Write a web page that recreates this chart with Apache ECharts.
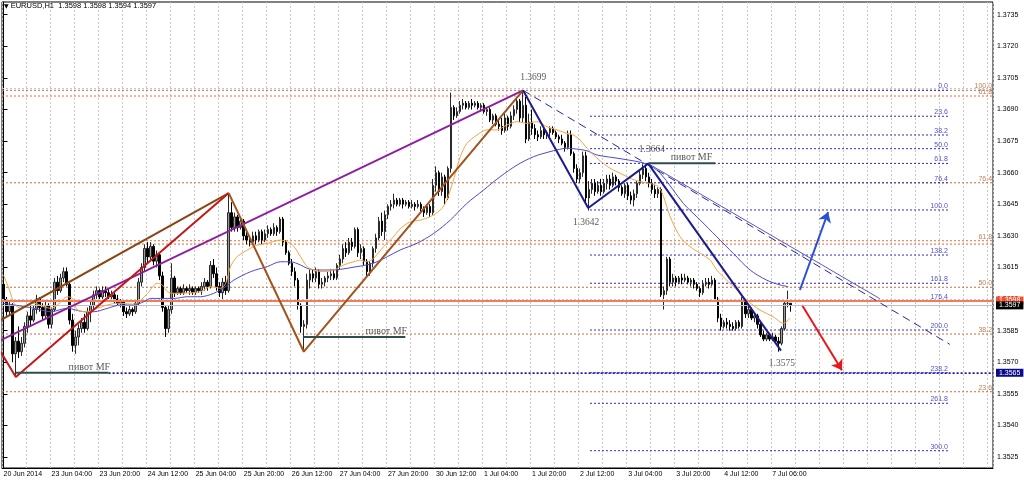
<!DOCTYPE html>
<html><head><meta charset="utf-8">
<script src="https://cdn.jsdelivr.net/npm/echarts@6/dist/echarts.min.js"></script>
<style>html,body{margin:0;padding:0;background:#fff}#c{width:1024px;height:482px}</style>
</head><body><div id="c"></div>
<script>
// ---------- DATA (prices in pips above 1.3500) ----------
const BASE = 1.35, PIP = 0.0001;
const titleText = 'EURUSD,H1  1.3598 1.3598 1.3594 1.3597';
const dateLabels = ['20 Jun 2014','23 Jun 04:00','23 Jun 20:00','24 Jun 12:00','25 Jun 04:00','25 Jun 20:00','26 Jun 12:00','27 Jun 04:00','27 Jun 20:00','30 Jun 12:00','1 Jul 04:00','1 Jul 20:00','2 Jul 12:00','3 Jul 04:00','3 Jul 20:00','4 Jul 12:00','7 Jul 06:00'];
const BARS_PER_LABEL = 16;
const priceTicks = [1.3525,1.3540,1.3555,1.3570,1.3585,1.3600,1.3615,1.3630,1.3645,1.3660,1.3675,1.3690,1.3705,1.3720,1.3735];
// hourly candles [open, high, low, close]
const candles = [
[107,110,97,99],[99,101,92,94],[94,99,92,97],[97,98,70,74],[74,82,64,80],[80,87,72,75],[75,82,73,79],[79,89,77,87],[87,94,84,92],[92,97,87,90],
[90,97,89,95],[95,102,93,100],[100,101,94,96],[96,98,90,92],[92,99,91,97],[97,98,86,88],[88,96,86,95],[95,110,94,108],[108,111,102,104],[104,112,103,110],
[110,115,108,113],[113,115,106,107],[107,108,88,90],[90,93,75,78],[78,85,74,82],[82,88,78,86],[86,91,84,89],[89,93,84,86],[86,96,85,94],[94,99,89,97],
[97,104,95,102],[102,106,100,104],[104,105,100,101],[101,106,100,104],[104,106,101,103],[103,105,100,101],[101,104,99,102],[102,103,98,100],[100,102,97,98],[98,100,96,99],
[99,100,92,94],[94,96,91,93],[93,97,92,95],[95,96,92,94],[94,99,93,98],[98,110,97,108],[108,117,106,115],[115,126,113,124],[124,127,117,120],[120,127,118,125],
[125,126,116,118],[118,123,115,121],[121,122,109,111],[111,113,94,96],[96,97,82,86],[86,97,84,95],[95,117,93,110],[110,111,101,103],[103,106,102,105],[105,106,102,103],
[103,107,102,105],[105,106,103,104],[104,107,102,105],[105,106,102,103],[103,106,102,105],[105,106,103,104],[104,108,102,106],[106,110,104,108],[108,109,104,106],[106,118,105,116],
[116,119,110,112],[112,115,104,106],[106,108,101,103],[103,110,100,108],[108,111,102,104],[104,150,103,141],[141,146,132,134],[134,141,132,139],[139,140,132,134],[134,139,133,137],
[137,138,128,130],[130,133,126,128],[128,130,125,127],[127,132,126,130],[130,132,126,128],[128,133,127,132],[132,133,126,128],[128,133,127,131],[131,135,129,133],[133,134,130,131],
[131,136,130,134],[134,135,130,132],[132,139,131,138],[138,139,125,127],[127,128,121,122],[122,123,116,117],[117,119,111,113],[113,115,106,109],[109,110,95,97],[97,98,84,87],
[87,90,76,88],[88,112,86,109],[109,114,105,112],[112,114,108,110],[110,115,108,113],[113,114,105,107],[107,110,105,108],[108,111,106,110],[110,113,108,111],[111,114,109,112],
[112,114,109,110],[110,117,109,116],[116,121,114,119],[119,126,117,124],[124,127,120,122],[122,129,121,127],[127,129,123,125],[125,134,124,133],[133,134,120,122],[122,126,119,124],
[124,125,116,118],[118,119,111,113],[113,118,111,117],[117,125,115,124],[124,131,122,129],[129,139,128,137],[137,141,130,132],[132,142,128,140],[140,145,138,144],[144,147,142,145],
[145,150,143,147],[147,148,144,145],[145,148,144,147],[147,148,143,145],[145,147,144,146],[146,147,143,144],[144,147,143,145],[145,146,142,144],[144,147,143,145],[145,146,141,143],
[143,144,139,141],[141,145,140,144],[144,145,139,141],[141,157,140,154],[154,163,151,160],[160,161,149,151],[151,160,149,158],[158,159,145,148],[148,163,147,162],[162,198,160,191],
[191,192,185,187],[187,191,186,189],[189,194,188,192],[192,195,190,193],[193,194,190,191],[191,194,190,193],[193,195,190,192],[192,194,191,193],[193,194,190,191],[191,193,189,192],
[192,193,188,189],[189,191,187,190],[190,191,184,185],[185,188,183,187],[187,188,182,183],[183,185,180,182],[182,186,178,180],[180,188,179,186],[186,187,180,182],[182,189,181,187],
[187,192,185,190],[190,196,188,194],[194,195,184,186],[186,199,184,192],[192,196,174,176],[176,188,175,184],[184,190,178,181],[181,183,176,178],[178,180,175,177],[177,182,176,180],
[180,181,176,178],[178,180,176,179],[179,182,177,181],[181,182,178,179],[179,180,176,177],[177,178,174,176],[176,178,173,174],[174,175,170,172],[172,180,171,178],[178,180,168,169],
[169,170,160,162],[162,164,155,157],[157,162,155,160],[160,170,158,168],[168,170,146,148],[148,156,142,152],[152,157,150,155],[155,157,149,151],[151,156,150,154],[154,157,149,151],
[151,157,150,155],[155,159,152,157],[157,159,152,154],[154,160,153,158],[158,159,154,156],[156,157,151,153],[153,154,149,150],[150,155,148,154],[154,155,147,149],[149,151,145,147],
[147,152,144,150],[150,156,148,155],[155,161,154,159],[159,164,157,162],[162,164,156,158],[158,160,153,155],[155,157,150,152],[152,154,148,150],[150,153,148,152],[152,153,101,102],
[102,106,95,104],[104,120,102,119],[119,120,106,108],[108,112,106,110],[110,111,106,108],[108,111,107,110],[110,112,107,109],[109,112,108,110],[110,111,107,108],[108,110,106,109],
[109,110,105,107],[107,108,104,105],[105,106,101,103],[103,109,102,107],[107,110,106,108],[108,110,105,107],[107,111,106,109],[109,110,99,100],[100,101,89,91],[91,93,85,87],
[87,90,86,89],[89,91,86,88],[88,90,85,87],[87,89,85,86],[86,90,85,89],[89,90,86,87],[87,101,86,99],[99,100,91,93],[93,97,91,95],[95,96,90,91],
[91,93,89,92],[92,93,86,88],[88,89,82,83],[83,85,80,81],[81,84,80,83],[83,84,80,81],[81,84,80,82],[82,83,79,80],[80,82,75,79],[79,87,78,86],
[86,99,85,98],[98,104,96,98],[98,98,94,97]
];
// moving averages: [bar index, pips]
const maFast = [[0,111.4],[2,104.3],[3.5,98],[5.8,95.6],[8,97.2],[10.2,98],[13.5,96.4],[15.7,95.6],[18,97.2],[21.3,101.1],[23,100.3],[24.6,94.8],[28,94],[31.3,95.6],[34.6,97.2],[38,98],[43.5,97.6],[45.7,99.5],[48,102.7],[51.2,107.5],[52.9,106.7],[54.6,103.5],[56.8,102.7],[65.6,103.5],[69,105.9],[72.3,105.1],[74,107.5],[75.6,115.4],[77.8,120.1],[81.2,123.3],[84.5,125.6],[87.8,126.4],[92.2,128],[94.5,127.2],[96.7,124.9],[98.9,120.1],[101.1,115.4],[103.3,113.8],[106.7,113],[110,113.8],[113.3,116.2],[116.6,117.7],[118.8,118.5],[121,117.7],[123.2,119.3],[126.6,124.9],[129.9,129.6],[132.2,133.5],[135.5,136.7],[138.8,137.5],[142.1,139.1],[145.5,142.3],[147.1,145.4],[148.8,151.8],[150.5,159.7],[152.1,167.6],[154.3,173.9],[157.7,177.9],[161,180.3],[164.3,180.3],[167.6,182.6],[171,184.2],[174.3,183.4],[177.6,184.2],[181,181.8],[184.3,180.3],[187.6,178.7],[189.8,177.9],[192,175.5],[194.3,171.6],[196.5,168.4],[198.7,165.6],[202,162.1],[205.4,159.7],[208.7,157.3],[212,155.7],[215.3,154.9],[218.1,153.3],[219.8,148.6],[222,139.1],[225.3,129.6],[228.6,124.9],[232,121.7],[235.3,118.5],[237.5,113.8],[240.8,109],[244.2,104.3],[247.5,99.5],[251.9,94.8],[256.3,91.6],[259.7,88.5],[261.3,90],[262,91]];
const maSlow = [[0,98],[3.5,97.2],[10.2,95.6],[15.7,94],[21.3,95.6],[26.8,94],[30.2,94],[34.6,95.6],[39,97.2],[43.5,97.2],[46.8,98.8],[49,100.3],[52.3,100.3],[56.8,100.3],[61.2,101.1],[65.6,101.1],[70,102.7],[74,105.9],[76.7,109],[82.3,113],[87.8,115.4],[92.2,117.7],[95.5,117.7],[98.9,116.2],[101.1,114.6],[104.4,113.8],[110,113.8],[114.4,114.6],[117.7,115.4],[121,116.2],[124.4,117.7],[127.8,120.1],[132.1,123.3],[137.7,126.5],[143.3,131.2],[148.8,137.5],[154.3,145.4],[159.9,151.8],[165.4,158.1],[171,163.6],[176.5,167.6],[182,170],[184.3,170.8],[187.6,171.6],[190.9,171.2],[194.3,170.4],[197.6,168.4],[206,166.5],[214.2,164.1],[218.7,159.7],[226.4,145.4],[232,137.5],[237.5,129.6],[243,121.7],[248.6,113.8],[254.1,109],[258.6,106.7],[261.3,105.9]];
// full-width Fibonacci levels (pips) and their texts
const wideFibLevels = [199.1,196.4,155.2,127.7,126.1,105.6,83.4,56.0];
const wideFibTexts  = ['100.0','61.8','76.4','61.8','','50.0','38.2','23.6'];
const wideFibKind   = ['b','r','b','r','b','b','b','b'];
// blue Fibonacci expansion levels (pips) and texts
const blueFibLevels = [199.1,186.8,177.9,171.4,164.4,155.2,142.3,120.9,107.5,99.0,85.3,65.0,50.5,28.0];
const blueFibTexts  = ['0.0','23.6','38.2','50.0','61.8','76.4','100.0','138.2','161.8','176.4','200.0','238.2','261.8','300.0'];
const blueFibFrom = 195.3, blueFibTo = 314.5;
// trend lines [bar, pips]
const purpleLine = [[-0.9,80.5],[173,199.1]];
const brownChannel = [[-0.9,90],[75,150.3]];
const redZigzag = [[-0.9,74.9],[4.1,63],[75,150.3]];
const brownZigzag = [[75,150.3],[100,75],[173,199.1]];
const navyZigzag = [[173,199.1],[194.7,143.2],[214.7,164.3],[258.9,75.5]];
const navyDashed = [[173,199.1],[315.1,78.5]];
const thinChannel = [[214.7,164.3],[291.8,100.2]];
const pivotLines = [[[4.1,65],[35,65]],[[99.9,82],[133.8,82]],[[214.7,164.5],[237,164.5]]];
const pivotTexts = [[35.5,65,'пивот MF'],[134.4,82,'пивот MF'],[236,164.5,'пивот MF']];
const pivotExtension = [[35,65],[329.5,65]];
const priceNotes = [[176.4,205.4,'1.3699'],[215.9,170.8,'1.3664'],[194,136.2,'1.3642'],[259.2,69.2,'1.3575']];
const upArrow = [[265.2,104.3],[274.6,141.3]];
const downArrow = [[265.9,97.2],[279.2,66.2]];
const levelLine = 99.3, levelText = '1.3598';
const bidLine = 97.0, bidText = '1.3597';
const pivotBoxText = '1.3565';

// ---------- CHART ----------
const NSLOT = 330;
const FONT = 'Liberation Sans', SERIF = 'Liberation Serif';
const P = v => +(BASE + v * PIP).toFixed(6);
const pts = a => a.map(([x, y]) => [x, P(y)]);
const cats = Array.from({length: NSLOT}, (_, i) => String(i));
const isLab = i => i % BARS_PER_LABEL === 0 && i / BARS_PER_LABEL < dateLabels.length;

function line(data, color, width, type, z) {
  return {type: 'line', xAxisIndex: 1, yAxisIndex: 0, data: pts(data), symbol: 'none', silent: true,
    z: z || 6, lineStyle: {color, width, type: type || 'solid'}};
}
function labels(items, color, size, family, pos, align) {
  return {type: 'scatter', xAxisIndex: 1, yAxisIndex: 0, silent: true, z: 9, symbolSize: 1,
    itemStyle: {color: 'rgba(0,0,0,0)'},
    data: items.map(([x, y, t]) => ({value: [x, P(y)], name: t})),
    label: {show: true, formatter: p => p.name, position: pos, distance: 0, align: align,
      color, fontSize: size, fontFamily: family}};
}

const series = [];
// grid lines
series.push({type: 'line', xAxisIndex: 1, data: [[-0.5, P(100)]], symbol: 'none', silent: true, z: 1,
  lineStyle: {width: 0},
  markLine: {silent: true, symbol: ['none', 'none'], label: {show: false},
    lineStyle: {color: '#c8c8c8', type: [2, 2], width: 1},
    data: priceTicks.map(v => ({yAxis: v}))}});
// candles
series.push({type: 'candlestick', xAxisIndex: 0, yAxisIndex: 0, z: 3, barWidth: 2, silent: true,
  data: candles.map(([o, h, l, c]) => [P(o), P(c), P(l), P(h)]),
  itemStyle: {color: '#9c9c9c', color0: '#000000', borderColor: '#2a2a2a', borderColor0: '#000000', borderWidth: 1}});
// wide fib levels
wideFibLevels.forEach((v, i) => series.push(line([[-0.5, v], [329.5, v]],
  wideFibKind[i] === 'r' ? '#f46a3c' : '#c2703c', 1, [2, 2], 2)));
series.push(labels(wideFibLevels.map((v, i) => [329.2, v, wideFibTexts[i]]).filter(d => d[2]),
  '#b05a30', 7, FONT, 'top', 'right'));
// blue fib
blueFibLevels.forEach(v => series.push(line([[blueFibFrom, v], [blueFibTo, v]], '#2d2dc8', 1, [2, 2], 2)));
series.push(labels(blueFibLevels.map((v, i) => [blueFibTo, v, blueFibTexts[i]]), '#2424c0', 7, FONT, 'top', 'right'));
// moving averages
series.push(Object.assign(line(maSlow, '#4a4ad0', 1), {smooth: 0.3}));
series.push(Object.assign(line(maFast, '#f7a23e', 1), {smooth: 0.3}));
// trend lines
series.push(line(purpleLine, '#8e1ea0', 2));
series.push(line(brownChannel, '#8b4513', 2));
series.push(line(redZigzag, '#c41818', 2));
series.push(line(brownZigzag, '#a4521c', 2));
series.push(line(navyDashed, '#26269a', 1, [8, 5]));
series.push(line(thinChannel, '#5a5ac8', 1));
series.push(line(navyZigzag, '#1c1c8c', 2));
series.push(line(pivotExtension, '#1c1ca8', 1, [2, 2]));
pivotLines.forEach(pl => series.push(line(pl, '#2f4f4f', 2, 'solid', 7)));
series.push(labels(pivotTexts, '#303030', 10, SERIF, 'top', 'right'));
series.push(labels(priceNotes, '#303030', 9.5, SERIF, 'inside', 'center'));
// arrows, price lines and boxes
series.push({type: 'line', xAxisIndex: 1, data: [[-0.5, P(100)]], symbol: 'none', silent: true, z: 8,
  lineStyle: {width: 0},
  markLine: {silent: true, symbol: ['none', 'none'], animation: false,
    data: [
      [{coord: pts(upArrow)[0], symbol: 'none'}, {coord: pts(upArrow)[1], symbol: 'arrow', symbolSize: 10,
        lineStyle: {color: '#2a50d8', width: 2, type: 'solid'}, label: {show: false}}],
      [{coord: pts(downArrow)[0], symbol: 'none'}, {coord: pts(downArrow)[1], symbol: 'arrow', symbolSize: 10,
        lineStyle: {color: '#e81818', width: 2, type: 'solid'}, label: {show: false}}],
      [{coord: pts(pivotExtension)[0]}, {coord: pts(pivotExtension)[1],
        lineStyle: {color: '#1c1ca8', width: 1, type: [2, 2]},
        label: {show: true, position: 'end', distance: 3, formatter: pivotBoxText, color: '#fff',
          backgroundColor: '#0a0a8c', padding: [1, 3, 0, 3], fontSize: 7, fontFamily: FONT}}],
      [{coord: [-0.5, P(levelLine)]}, {coord: [329.5, P(levelLine)],
        lineStyle: {color: '#f47c5c', width: 2, type: 'solid'},
        label: {show: true, position: 'end', distance: 3, formatter: levelText, color: '#fff',
          backgroundColor: '#ff4a28', padding: [1, 3, 0, 3], fontSize: 7, fontFamily: FONT}}],
      [{coord: [-0.5, P(bidLine)]}, {coord: [329.5, P(bidLine)],
        lineStyle: {color: '#c0c0c0', width: 1, type: 'solid'},
        label: {show: true, position: 'end', distance: 3, formatter: bidText, color: '#fff',
          backgroundColor: '#000', padding: [1, 3, 0, 3], fontSize: 7, fontFamily: FONT}}]
    ]}});

const option = {
  animation: false,
  backgroundColor: '#ffffff',
  textStyle: {fontFamily: FONT},
  title: {text: '{t|▼} ' + titleText, left: 4, top: 2, padding: 0,
    textStyle: {fontSize: 7.5, fontWeight: 'normal', color: '#000', fontFamily: FONT,
      rich: {t: {fontSize: 6, color: '#000', fontFamily: 'DejaVu Sans'}}}},
  grid: {left: 2, right: 31, top: 2, bottom: 14, show: true, borderColor: '#000', borderWidth: 1, backgroundColor: '#fff'},
  xAxis: [
    {type: 'category', data: cats, boundaryGap: true,
      axisLine: {lineStyle: {color: '#000', width: 1}},
      axisTick: {alignWithLabel: true, length: 4, interval: i => isLab(i), lineStyle: {color: '#000'}},
      axisLabel: {interval: i => isLab(i), formatter: (v, i) => isLab(i) ? dateLabels[i / BARS_PER_LABEL] : '',
        align: 'left', color: '#000', fontSize: 7, margin: 3, fontFamily: FONT},
      splitLine: {show: true, interval: i => i % (BARS_PER_LABEL / 2) === 0,
        lineStyle: {color: '#c8c8c8', type: [2, 2], width: 1}}},
    {type: 'value', min: -0.5, max: NSLOT - 0.5, show: false, splitLine: {show: false}}
  ],
  yAxis: [{type: 'value', position: 'right', min: 1.351979, max: 1.374103, scale: true,
    axisLine: {show: true, lineStyle: {color: '#000', width: 1}},
    axisTick: {show: true, length: 4, customValues: priceTicks, lineStyle: {color: '#000'}},
    axisLabel: {customValues: priceTicks, formatter: v => v.toFixed(4), color: '#000', fontSize: 7, margin: 4, fontFamily: FONT},
    splitLine: {show: false}}],
  series
};
const chart = echarts.init(document.getElementById('c'), null, {renderer: 'canvas'});
chart.setOption(option);
</script></body></html>
